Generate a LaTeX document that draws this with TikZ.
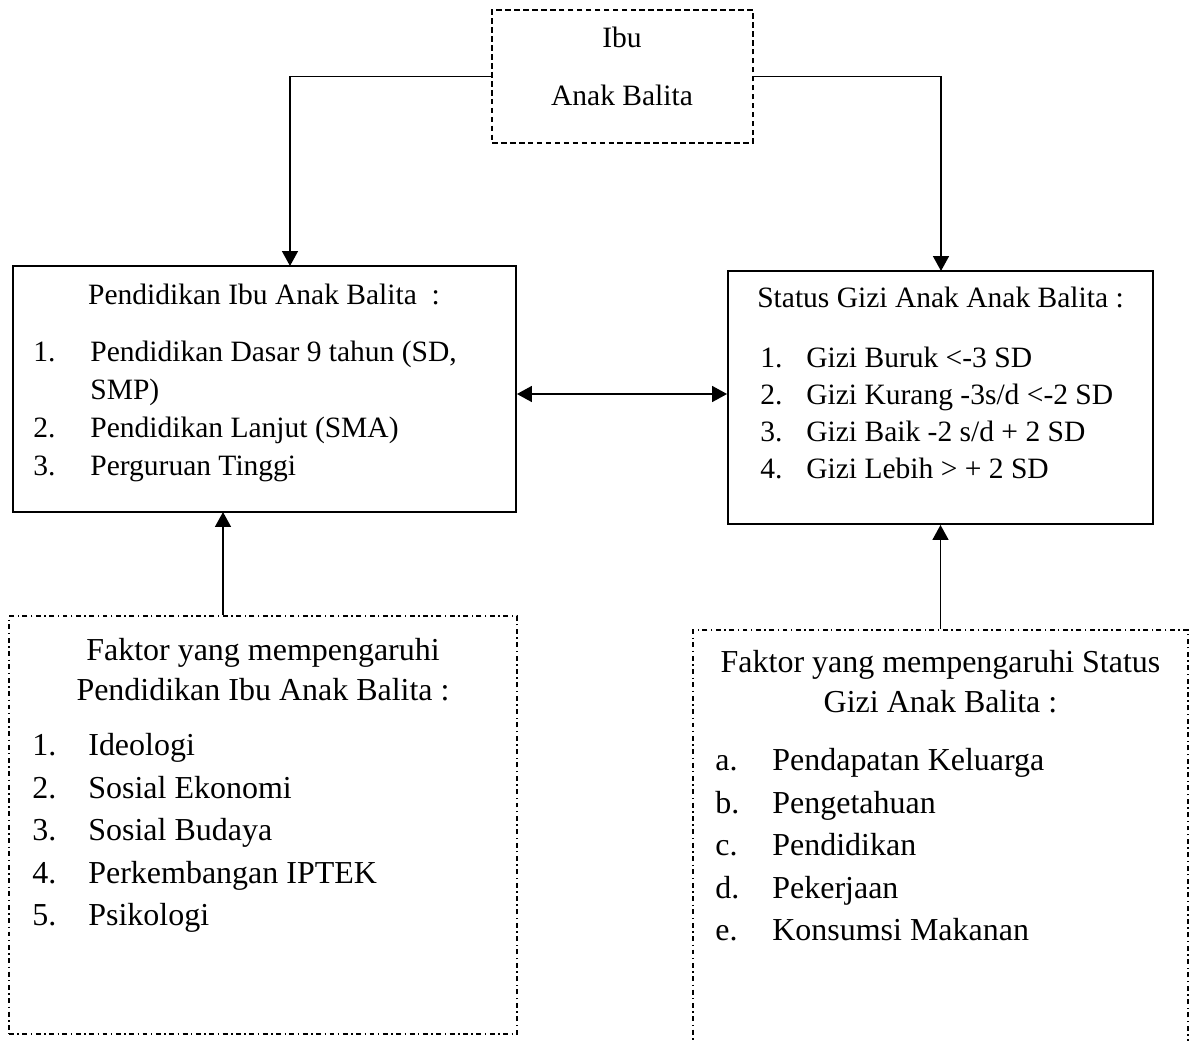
\documentclass[tikz,border=0pt]{standalone}
\usepackage{fontspec}
\setmainfont{Liberation Serif}
\usetikzlibrary{arrows.meta}

\begin{document}
\begin{tikzpicture}[x=0.02cm, y=-0.02cm,
                    box/.style={draw, line width=1.1pt, inner sep=0pt},
                    dashbox/.style={box, dash pattern=on 3.2pt off 1.9pt},
                    dotbox/.style={box, dash pattern=on 2.8pt off 2pt on 0.8pt off 2pt},
                    txt/.style={inner sep=0pt, anchor=base west, font=\fontsize{16.8pt}{20pt}\selectfont},
                    ttl/.style={txt, anchor=base},
                    bigtxt/.style={txt, font=\fontsize{18.2pt}{22pt}\selectfont},
                    bigttl/.style={bigtxt, anchor=base},
                    link/.style={->, >={Triangle[length=8.5pt, width=9pt]}, line width=1.1pt},
                    both/.style={<->, >={Triangle[length=8.5pt, width=9pt]}, line width=1.1pt}]

    \useasboundingbox (0,0) rectangle (1190,1041);
    \clip (0,0) rectangle (1190,1041);

    \node[dashbox, minimum width=5.22cm, minimum height=2.66cm] (ibu) at (622.5,76.5) {};
    \node[ttl] (ibut1) at (622,47)  {Ibu};
    \node[ttl] (ibut2) at (622,105) {Anak Balita};

    \node[box, minimum width=10.06cm, minimum height=4.92cm] (pend) at (264.5,389) {};
    \node[ttl] (pendt) at (264,304) {Pendidikan Ibu Anak Balita\ \ :};
    \node[txt] (pendn1) at (33,361) {1.};
    \node[txt] (pendi1) at (90,361) {Pendidikan Dasar 9 tahun (SD,};
    \node[txt] (pendi1b) at (90,399) {SMP)};
    \node[txt] (pendn2) at (33,437) {2.};
    \node[txt] (pendi2) at (90,437) {Pendidikan Lanjut (SMA)};
    \node[txt] (pendn3) at (33,475) {3.};
    \node[txt] (pendi3) at (90,475) {Perguruan Tinggi};

    \node[box, minimum width=8.5cm, minimum height=5.06cm] (stat) at (940.5,397.5) {};
    \node[ttl] (statt) at (940.5,307) {Status Gizi Anak Anak Balita :};
    \node[txt] (statn1) at (760,367) {1.};
    \node[txt] (stati1) at (806,367) {Gizi Buruk <-3 SD};
    \node[txt] (statn2) at (760,404) {2.};
    \node[txt] (stati2) at (806,404) {Gizi Kurang -3s/d <-2 SD};
    \node[txt] (statn3) at (760,441) {3.};
    \node[txt] (stati3) at (806,441) {Gizi Baik -2 s/d + 2 SD};
    \node[txt] (statn4) at (760,478) {4.};
    \node[txt] (stati4) at (806,478) {Gizi Lebih > + 2 SD};

    \node[dotbox, minimum width=10.16cm, minimum height=8.36cm] (fakpend) at (263,825) {};
    \node[bigttl] (fakpendt1) at (263,660) {Faktor yang mempengaruhi};
    \node[bigttl] (fakpendt2) at (263,700) {Pendidikan Ibu Anak Balita :};
    \node[bigtxt] (fakpendn1) at (32,755) {1.};
    \node[bigtxt] (fakpendi1) at (88,755) {Ideologi};
    \node[bigtxt] (fakpendn2) at (32,798) {2.};
    \node[bigtxt] (fakpendi2) at (88,798) {Sosial Ekonomi};
    \node[bigtxt] (fakpendn3) at (32,840) {3.};
    \node[bigtxt] (fakpendi3) at (88,840) {Sosial Budaya};
    \node[bigtxt] (fakpendn4) at (32,883) {4.};
    \node[bigtxt] (fakpendi4) at (88,883) {Perkembangan IPTEK};
    \node[bigtxt] (fakpendn5) at (32,925) {5.};
    \node[bigtxt] (fakpendi5) at (88,925) {Psikologi};

    \node[dotbox, minimum width=9.9cm, minimum height=8.8cm] (fakstat) at (940.5,850) {};
    \node[bigttl] (fakstatt1) at (940.5,672) {Faktor yang mempengaruhi Status};
    \node[bigttl] (fakstatt2) at (940.5,712) {Gizi Anak Balita :};
    \node[bigtxt] (fakstatn1) at (715,770) {a.};
    \node[bigtxt] (fakstati1) at (772,770) {Pendapatan Keluarga};
    \node[bigtxt] (fakstatn2) at (715,813) {b.};
    \node[bigtxt] (fakstati2) at (772,813) {Pengetahuan};
    \node[bigtxt] (fakstatn3) at (715,855) {c.};
    \node[bigtxt] (fakstati3) at (772,855) {Pendidikan};
    \node[bigtxt] (fakstatn4) at (715,898) {d.};
    \node[bigtxt] (fakstati4) at (772,898) {Pekerjaan};
    \node[bigtxt] (fakstatn5) at (715,940) {e.};
    \node[bigtxt] (fakstati5) at (772,940) {Konsumsi Makanan};

    \coordinate (pendtop) at (290,266);
    \coordinate (stattop) at (941,271);
    \coordinate (pendbot) at (223,512);
    \coordinate (mid) at (620,394);

    \draw[link] (ibu.west) -| (pendtop);
    \draw[link] (ibu.east) -| (stattop);
    \draw[both] (pend.east |- mid) -- (stat.west |- mid);
    \draw[link] (fakpend.north -| pendbot) -- (pendbot);
    \draw[link] (fakstat.north) -- (stat.south);
\end{tikzpicture}
\end{document}
